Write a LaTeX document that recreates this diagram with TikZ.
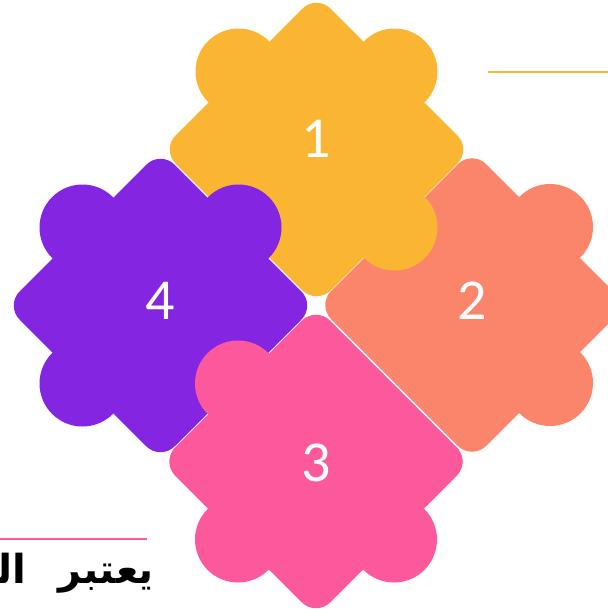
\documentclass[tikz,border=0pt]{standalone}
\usepackage{fontspec}
\setmainfont{Carlito}
\newfontfamily\arabicfont[Script=Arabic]{DejaVu Sans}
\TeXXeTstate=1
\usepackage{tikz}
\definecolor{onecol}{RGB}{250,182,50}
\definecolor{twocol}{RGB}{250,133,106}
\definecolor{threecol}{RGB}{252,88,156}
\definecolor{fourcol}{RGB}{131,37,225}

\begin{document}
\begin{tikzpicture}[
  x=1pt, y=-1pt,
  piece/.style={rounded corners=20pt},
  num/.style={text=white, font=\fontsize{58}{58}\selectfont},
  rule/.style={line width=2pt},
  caption/.style={font=\arabicfont\bfseries\fontsize{40}{40}\selectfont, anchor=base east, inner sep=0pt}
]
  \useasboundingbox (0,0) rectangle (608,611);
  \clip (0,0) rectangle (608,611);

  \coordinate (c1) at (316.5,149.5);
  \coordinate (c2) at (472,305);
  \coordinate (c3) at (316,461.5);
  \coordinate (c4) at (160.5,305.5);

  % piece 2
  \fill[twocol, piece] (c2) ++(0,-155) -- ++(155,155) -- ++(-155,155) -- ++(-155,-155) -- cycle;
  \fill[twocol] (c2) ++(78,-78) circle (43) (c2) ++(78,78) circle (43);
  % piece 1
  \fill[onecol, piece] (c1) ++(0,-155) -- ++(155,155) -- ++(-155,155) -- ++(-155,-155) -- cycle;
  \fill[onecol] (c1) ++(-78,-78) circle (43) (c1) ++(78,-78) circle (43)
                (c1) ++(78,78) circle (43);
  % piece 4
  \fill[fourcol, piece] (c4) ++(0,-155) -- ++(155,155) -- ++(-155,155) -- ++(-155,-155) -- cycle;
  \fill[fourcol] (c4) ++(-78,-78) circle (43) (c4) ++(78,-78) circle (43)
                 (c4) ++(-78,78) circle (43);
  % piece 3
  \fill[threecol, piece] (c3) ++(0,-155) -- ++(155,155) -- ++(-155,155) -- ++(-155,-155) -- cycle;
  \fill[threecol] (c3) ++(-78,-78) circle (43) (c3) ++(-78,78) circle (43)
                  (c3) ++(78,78) circle (43);

  \node[num] (n1) at (316,138.5) {1};
  \node[num] (n2) at (472,301) {2};
  \node[num] (n3) at (316,462.5) {3};
  \node[num] (n4) at (160,301) {4};

  \coordinate (r1) at (488,72);
  \coordinate (r2) at (608,72);
  \draw[rule, onecol] (r1) -- (r2);
  \coordinate (r3) at (0,539);
  \coordinate (r4) at (147,539);
  \draw[rule, threecol] (r3) -- (r4);

  \node[caption] (txt) at (154,583) {\beginR يعتبر\hspace{32pt}الد\endR};
\end{tikzpicture}
\end{document}
